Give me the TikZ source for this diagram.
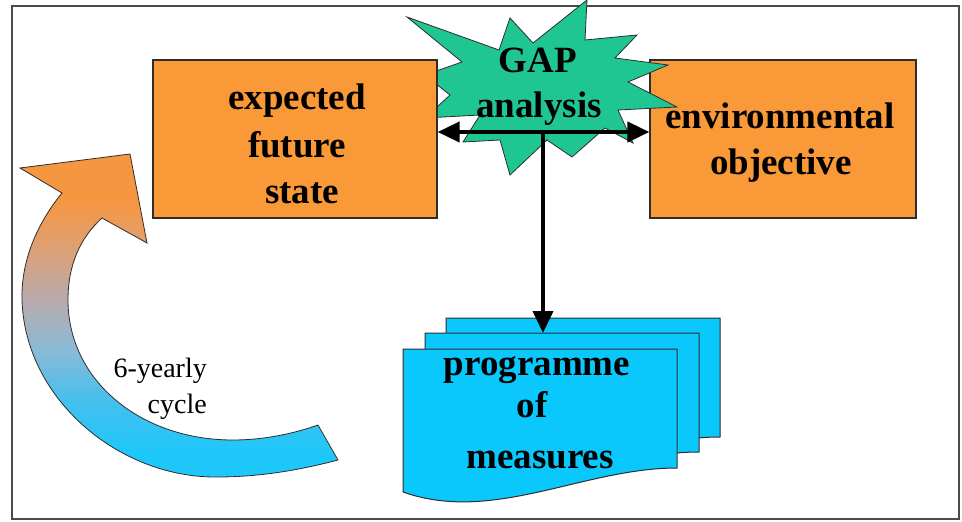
\documentclass[tikz,border=0pt]{standalone}
\usepackage{fontspec}
\setmainfont{Liberation Serif}
\usetikzlibrary{arrows.meta}

\definecolor{boxorange}{RGB}{250,153,55}
\definecolor{stargreen}{RGB}{32,198,146}
\definecolor{pagecyan}{RGB}{10,200,252}
\definecolor{frameline}{RGB}{75,75,75}
\definecolor{edgeline}{RGB}{45,45,45}

% orange-to-cyan fade of the cycle arrow (bottom to top)
\pgfdeclareverticalshading{cyclegrad}{100bp}{%
  rgb(0bp)=(0.1,0.78,0.98);
  rgb(29bp)=(0.12,0.78,0.98);
  rgb(37bp)=(0.27,0.75,0.93);
  rgb(45bp)=(0.55,0.73,0.84);
  rgb(52bp)=(0.71,0.67,0.69);
  rgb(60bp)=(0.86,0.63,0.47);
  rgb(68bp)=(0.97,0.59,0.25);
  rgb(100bp)=(0.97,0.59,0.25)}

\begin{document}
\begin{tikzpicture}[x=1pt,y=-1pt,
  statebox/.style={draw=edgeline, line width=1.2pt, fill=boxorange, inner sep=0pt},
  bigbold/.style={font=\fontsize{37}{44}\selectfont\bfseries, anchor=base, inner sep=0pt},
  smalltext/.style={font=\fontsize{28}{34}\selectfont, anchor=base east, inner sep=0pt},
  pagestyle/.style={draw=edgeline, line width=1pt, fill=pagecyan},
  link/.style={line width=4pt, -{Triangle[length=22pt,width=20pt]}},
  twolink/.style={line width=4pt, {Triangle[length=22pt,width=20pt]}-{Triangle[length=22pt,width=20pt]}}]

\useasboundingbox (0,0) rectangle (962,522);

% outer frame
\draw[frameline, line width=2pt] (12,6) rectangle (959,519);

% target state box (right)
\node[statebox, minimum width=266pt, minimum height=158pt] (objective) at (783,139) {};

% gap starburst
\filldraw[fill=stargreen, draw=edgeline, line width=0.8pt]
  (407,17) -- (499,50) -- (510,18) -- (533,43) -- (587,0) -- (585,40)
  -- (637,35) -- (615,58) -- (668,65) -- (628,82) -- (677,107) -- (618,110)
  -- (633,143) -- (605,128) -- (572,157) -- (547,140) -- (510,175) -- (500,140)
  -- (463,142) -- (480,115) -- (425,118) -- (450,95) -- (425,75) -- (462,62) -- cycle;

% current trend box (left)
\node[statebox, minimum width=284pt, minimum height=158pt] (future) at (295,139) {};

% box texts
\node[bigbold] (exp1) at (297,109) {expected};
\node[bigbold] (exp2) at (297,157) {future};
\node[bigbold] (exp3) at (302,203) {state};
\node[bigbold] (env1) at (780,128) {environmental};
\node[bigbold] (env2) at (781,174) {objective};
\node[bigbold] (gap1) at (538,72) {GAP};
\node[bigbold] (gap2) at (539,117) {analysis};

% stack of programme pages
\foreach \dx/\dy in {43/-31, 22/-16, 0/0} {
  \begin{scope}[shift={(403+\dx,349+\dy)}]
    \path[pagestyle] (0,0) -- (274,0) -- (274,119)
      .. controls (180,119) and (90,175) .. (0,143) -- cycle;
  \end{scope}
}
\coordinate (stacktop) at (543,333);
\node[bigbold] (pm1) at (537,375) {programme};
\node[bigbold] (pm2) at (532,417) {of};
\node[bigbold] (pm3) at (540,468) {measures};

% connectors
\coordinate (hub) at (543,132);
\draw[twolink] (future.east |- hub) -- (objective.west |- hub);
\draw[link] (hub) -- (stacktop);

% cycle arrow: curved band with a broad head
\path[draw=edgeline, line width=0.8pt, shading=cyclegrad]
  (62,193) .. controls (36,225) and (21,262) .. (22,300)
  .. controls (25,400) and (120,478) .. (217,477)
  .. controls (260,477) and (300,470) .. (338,460)
  -- (318,425)
  .. controls (290,435) and (260,440) .. (233,440)
  .. controls (140,440) and (68,380) .. (68,300)
  .. controls (68,265) and (80,238) .. (102,218)
  -- (147,243) -- (130,154) -- (20,168) -- cycle;

\node[smalltext] (cyc1) at (207,377) {6-yearly};
\node[smalltext] (cyc2) at (207,413) {cycle};

\end{tikzpicture}
\end{document}
